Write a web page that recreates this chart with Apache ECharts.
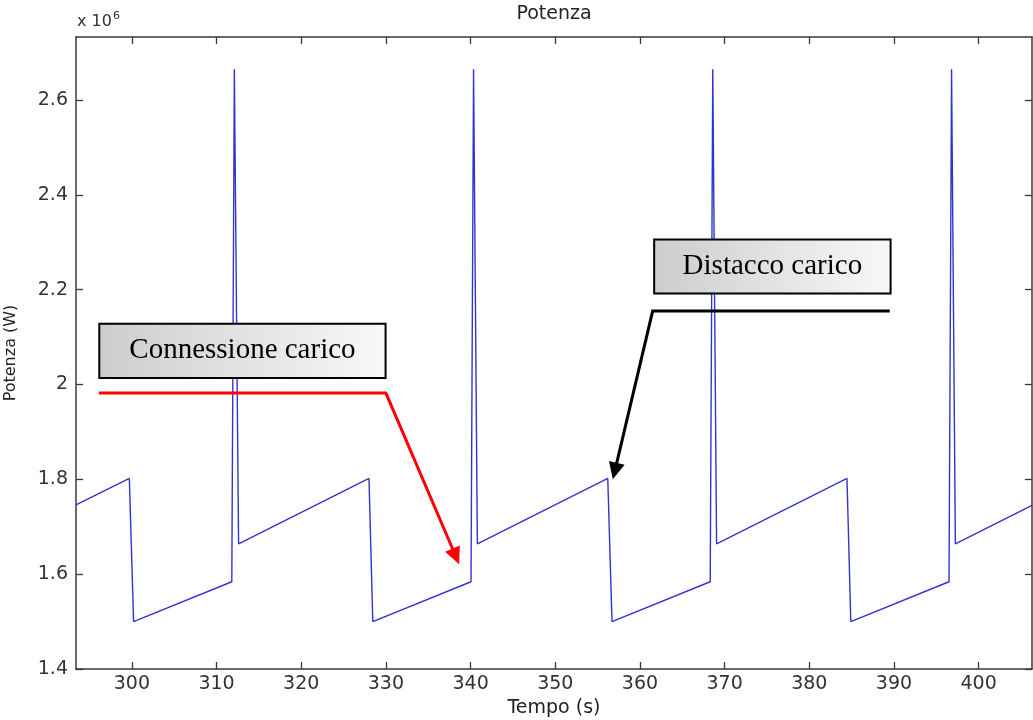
<!DOCTYPE html>
<html>
<head>
<meta charset="utf-8">
<script src="https://cdn.jsdelivr.net/npm/echarts@6/dist/echarts.min.js"></script>
<style>
html,body{margin:0;padding:0;background:#fff;}
#chart{width:1033px;height:720px;}
</style>
</head>
<body>
<div id="chart"></div>
<script>
// ---- data (time in s, power in W) ----
const times = [293.4, 299.7, 300.2, 311.8, 312.1, 312.6, 328.0, 328.45, 340.05, 340.35, 340.8, 356.2, 356.7, 368.3, 368.6, 369.05, 384.45, 384.9, 396.5, 396.8, 397.25, 406.3];
const power = [1.746e6, 1.802e6, 1.500e6, 1.584e6, 2.665e6, 1.664e6, 1.802e6, 1.500e6, 1.584e6, 2.665e6, 1.664e6, 1.802e6, 1.500e6, 1.584e6, 2.665e6, 1.664e6, 1.802e6, 1.500e6, 1.584e6, 2.665e6, 1.664e6, 1.745e6];
const xTicks = [300, 310, 320, 330, 340, 350, 360, 370, 380, 390, 400];
const yTicks = [1.4e6, 1.6e6, 1.8e6, 2.0e6, 2.2e6, 2.4e6, 2.6e6];
const titleText = 'Potenza';
const xName = 'Tempo (s)';
const yName = 'Potenza (W)';
const labelConn = 'Connessione carico';
const labelDist = 'Distacco carico';

// annotation anchors in data coordinates
const connBox = {x0: 296.15, y0: 2.128e6, x1: 329.96, y1: 2.014e6};
const connLine = [[296.1, 1.982e6], [330.0, 1.982e6], [338.65, 1.621e6]];
const distBox = {x0: 361.68, y0: 2.306e6, x1: 389.6, y1: 2.192e6};
const distLine = [[389.5, 2.155e6], [361.5, 2.155e6], [356.8, 1.800e6]];

const X_MIN = 293.4, X_MAX = 406.3, Y_MIN = 1.4e6, Y_MAX = 2.733e6;
const FONT = 'DejaVu Sans';
const AX = '#3a3a3a';

const chart = echarts.init(document.getElementById('chart'), null, {renderer: 'canvas'});
const fmtY = v => String(+(v / 1e6).toFixed(1));

function xAx(pos, show) {
  return {
    type: 'value', position: pos, min: X_MIN, max: X_MAX,
    axisLine: {show: true, onZero: false, lineStyle: {color: AX, width: 1.5}},
    axisTick: {show: true, inside: true, length: 7, customValues: xTicks, lineStyle: {color: AX, width: 1.3}},
    axisLabel: {show: show, customValues: xTicks, fontSize: 19, color: '#333', fontFamily: FONT, margin: 6},
    splitLine: {show: false},
    name: show ? xName : '', nameLocation: 'middle', nameGap: 27,
    nameTextStyle: {fontSize: 19, color: '#222', fontFamily: FONT}
  };
}
function yAx(pos, show) {
  return {
    type: 'value', position: pos, min: Y_MIN, max: Y_MAX,
    axisLine: {show: true, onZero: false, lineStyle: {color: AX, width: 1.5}},
    axisTick: {show: true, inside: true, length: 7, customValues: yTicks, lineStyle: {color: AX, width: 1.3}},
    axisLabel: {show: show, customValues: yTicks, formatter: fmtY, fontSize: 19, color: '#333', fontFamily: FONT, margin: 8},
    splitLine: {show: false},
    name: show ? yName : '', nameLocation: 'middle', nameGap: 57, nameRotate: 90,
    nameTextStyle: {fontSize: 16, color: '#222', fontFamily: FONT}
  };
}

chart.setOption({
  animation: false,
  backgroundColor: '#fff',
  grid: {left: 76, top: 37, right: 1, bottom: 51, containLabel: false, outerBoundsMode: 'none'},
  xAxis: [xAx('bottom', true), xAx('top', false)],
  yAxis: [yAx('left', true), yAx('right', false)],
  series: [{
    type: 'line', xAxisIndex: 0, yAxisIndex: 0,
    data: times.map((t, i) => [t, power[i]]),
    showSymbol: false, symbol: 'none',
    lineStyle: {color: '#3333d4', width: 1.4},
    clip: true
  }]
});

function P(x, y) { return chart.convertToPixel({xAxisIndex: 0, yAxisIndex: 0}, [x, y]); }

function arrowHead(from, tip, len, halfW, color) {
  const dx = tip[0] - from[0], dy = tip[1] - from[1];
  const d = Math.sqrt(dx * dx + dy * dy);
  const ux = dx / d, uy = dy / d;
  const bx = tip[0] - ux * len, by = tip[1] - uy * len;
  return {
    type: 'polygon', z: 20,
    shape: {points: [tip, [bx - uy * halfW, by + ux * halfW], [bx + uy * halfW, by - ux * halfW]]},
    style: {fill: color}
  };
}

function boxEls(b, label) {
  const p0 = P(b.x0, b.y0), p1 = P(b.x1, b.y1);
  const w = p1[0] - p0[0], h = p1[1] - p0[1];
  return [{
    type: 'rect', z: 20,
    shape: {x: p0[0], y: p0[1], width: w, height: h},
    style: {
      fill: new echarts.graphic.LinearGradient(0, 0, 1, 0, [
        {offset: 0, color: '#cdcdcd'}, {offset: 1, color: '#f8f8f8'}
      ]),
      stroke: '#000', lineWidth: 2
    }
  }, {
    type: 'text', z: 21,
    x: p0[0] + w / 2, y: p0[1] + h / 2,
    style: {text: label, fontFamily: 'Liberation Serif', fontSize: 29, fill: '#000', align: 'center', verticalAlign: 'middle'}
  }];
}

function lineEls(pts, color) {
  const px = pts.map(p => P(p[0], p[1]));
  const n = px.length;
  const tip = px[n - 1], prev = px[n - 2];
  const dx = tip[0] - prev[0], dy = tip[1] - prev[1];
  const d = Math.sqrt(dx * dx + dy * dy);
  const end = [tip[0] - dx / d * 10, tip[1] - dy / d * 10];
  const linePts = px.slice(0, n - 1).concat([end]);
  return [{
    type: 'polyline', z: 19,
    shape: {points: linePts},
    style: {stroke: color, lineWidth: 3, fill: null}
  }, arrowHead(prev, tip, 17, 8, color)];
}

const els = []
  .concat(boxEls(connBox, labelConn))
  .concat(lineEls(connLine, '#ff0000'))
  .concat(boxEls(distBox, labelDist))
  .concat(lineEls(distLine, '#000000'))
  .concat([{
    type: 'text', x: 554, y: 14, z: 10,
    style: {text: titleText, fontFamily: FONT, fontSize: 19, fill: '#222', align: 'center', verticalAlign: 'middle'}
  }, {
    type: 'text', x: 77, y: 30, z: 10,
    style: {
      text: '{a|x 10}{s|6}', fontFamily: FONT, fill: '#333', align: 'left', verticalAlign: 'bottom',
      rich: {a: {fontSize: 16, fontFamily: FONT, fill: '#333', verticalAlign: 'bottom'},
             s: {fontSize: 11, fontFamily: FONT, fill: '#333', verticalAlign: 'top', padding: [0, 0, 8, 1]}}
    }
  }]);

chart.setOption({graphic: {elements: els}});
</script>
</body>
</html>
